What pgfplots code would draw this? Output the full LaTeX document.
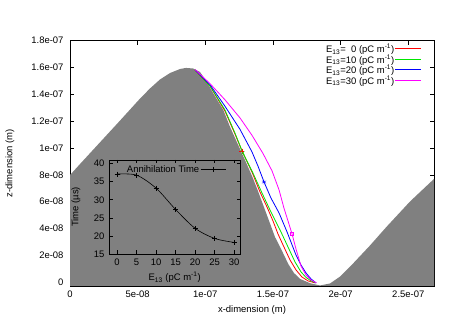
\documentclass[border=0pt]{standalone}
\usepackage{fontspec}
\setmainfont{Liberation Sans}
\usepackage{pgfplots}
\pgfplotsset{compat=1.18}
\definecolor{gpred}{RGB}{255,0,0}
\definecolor{gpgreen}{RGB}{0,230,0}
\definecolor{gpblue}{RGB}{0,0,255}
\definecolor{gpmag}{RGB}{255,0,255}
\definecolor{gpgray}{RGB}{128,128,128}
\begin{document}
\begin{tikzpicture}[font=\fontsize{9.5}{10.5}\selectfont]
\useasboundingbox (0,0) rectangle (450bp,315bp);
\begin{axis}[
  at={(70bp,29bp)}, anchor=south west,
  scale only axis, width=364bp, height=245.3bp,
  xmin=0, xmax=26.9, ymin=-0.28, ymax=18,
  xtick={0,5,10,15,20,25},
  xticklabels={0,5e-08,1e-07,1.5e-07,2e-07,2.5e-07},
  ytick={0,2,4,6,8,10,12,14,16,18},
  yticklabels={0,2e-08,4e-08,6e-08,8e-08,1e-07,1.2e-07,1.4e-07,1.6e-07,1.8e-07},
  tick align=inside, major tick length=4bp,
  tick style={black, line width=0.6pt},
  axis line style={line width=0.7pt},
  xticklabel style={yshift=-1.5bp},
  yticklabel style={xshift=-3bp},
  xlabel={x-dimension (m)}, ylabel={z-dimension (m)},
  xlabel style={at={(axis description cs:0.5,-0.1)}, anchor=center},
  ylabel style={at={(axis description cs:-0.165,0.5)}, anchor=center},
  legend style={at={(0.975,0.995)}, anchor=north east, draw=none, fill=none,
    row sep=0pt, nodes={inner sep=0.3bp}},
  legend plot pos=right, legend cell align=right,
  legend image code/.code={\draw[#1, line width=1.1pt] (0bp,0.4bp) -- (26bp,0.4bp);},
]
\addplot[fill=gpgray, draw=none, forget plot] coordinates {
(0,-0.28) (0,7.99) (0.74,8.81) (2.22,10.43) (3.70,12.05) (5.17,13.68) (5.91,14.44)
(6.65,15.11) (7.39,15.59) (8.13,15.89) (8.57,15.97) (9.09,15.93) (9.61,15.67)
(10.10,14.94) (10.59,14.08) (11.33,12.84) (11.82,11.59) (12.32,10.47) (12.93,9.11)
(13.45,7.92) (13.89,6.80) (14.41,5.39) (15.15,3.37) (15.67,2.33) (16.13,1.36)
(16.55,0.69) (17.00,0.25) (17.74,-0.07) (18.48,-0.24) (19.22,-0.09) (19.95,0.42)
(20.94,1.42) (22.17,2.74) (23.40,4.14) (25.13,6.02) (26.90,7.70) (26.90,-0.28)
} -- cycle;
\addplot[gpred, line width=0.8pt] coordinates {
(9.24,15.82) (10.35,14.62) (11.45,12.76) (12.19,11.05) (12.71,9.78) (13.45,8.21)
(14.04,6.73) (14.56,5.61) (15.00,4.57) (15.37,3.60) (15.81,2.63) (16.26,1.66)
(16.70,0.92) (17.14,0.39) (17.59,0.10) (18.11,-0.05)
};
\addlegendentry{E\textsubscript{13}=\hphantom{1}0 (pC m\textsuperscript{-1})}
\addplot[gpgreen, line width=0.8pt] coordinates {
(9.24,15.82) (10.35,14.62) (11.45,12.84) (12.19,11.12) (12.78,9.63) (13.52,8.14)
(14.19,6.65) (14.85,5.24) (15.52,3.90) (16.11,2.63) (16.63,1.51) (17.07,0.77)
(17.44,0.36) (17.81,0.10) (18.18,-0.05)
};
\addlegendentry{E\textsubscript{13}=10 (pC m\textsuperscript{-1})}
\addplot[gpblue, line width=0.8pt] coordinates {
(9.24,15.82) (10.35,14.72) (11.45,13.12) (12.56,11.40) (13.45,9.71) (13.89,8.66)
(14.34,7.47) (14.85,6.28) (15.45,5.16) (16.04,3.75) (16.70,2.03) (17.07,1.29)
(17.44,0.69) (17.81,0.25) (18.18,-0.05)
};
\addlegendentry{E\textsubscript{13}=20 (pC m\textsuperscript{-1})}
\addplot[gpmag, line width=0.8pt] coordinates {
(9.24,15.85) (10.35,14.80) (11.45,13.60) (12.56,12.25) (13.45,10.95) (14.26,9.60)
(14.93,8.30) (15.45,6.88) (15.81,5.53) (16.11,4.57) (16.41,3.60) (16.70,2.48)
(17.07,1.21) (17.44,0.54) (17.81,0.17) (18.22,-0.05)
};
\addlegendentry{E\textsubscript{13}=30 (pC m\textsuperscript{-1})}
\addplot[only marks, gpred, mark=+, mark size=2.5bp, forget plot] coordinates {(12.71,9.78)};
\addplot[only marks, gpgreen, mark=x, mark size=2.2bp, forget plot] coordinates {(12.78,9.63)};
\addplot[only marks, gpblue, mark=asterisk, mark size=2.5bp, forget plot] coordinates {(14.34,7.47)};
\addplot[only marks, gpmag, mark=square, mark size=1.5bp, forget plot] coordinates {(16.41,3.60)};
\end{axis}
\begin{axis}[
  at={(109.3bp,61bp)}, anchor=south west,
  scale only axis, width=130.7bp, height=94bp,
  xmin=-2, xmax=31.5, ymin=15, ymax=41,
  xtick={0,5,10,15,20,25,30}, ytick={15,20,25,30,35,40},
  tick align=inside, major tick length=3.5bp,
  tick style={black, line width=0.6pt},
  axis line style={line width=0.7pt},
  /pgf/number format/assume math mode=true,
  xticklabel style={yshift=-1.5bp},
  yticklabel style={xshift=-1.5bp},
  xlabel={E\textsubscript{13} (pC m\textsuperscript{-1})},
  ylabel={Time (µs)},
  xlabel style={at={(axis description cs:0.5,-0.25)}, anchor=center},
  ylabel style={at={(axis description cs:-0.255,0.5)}, anchor=center},
  legend style={at={(0.916,0.979)}, anchor=north east, draw=none, fill=none,
    nodes={inner sep=1bp}},
  legend plot pos=right,
  legend image code/.code={\draw[mark repeat=2, mark phase=2, #1] plot coordinates {(0bp,0bp) (12.5bp,0bp) (25bp,0bp)};},
]
\addplot[black, mark=+, mark size=2.5bp, line width=0.6pt, smooth] coordinates {
(0,37.1) (5,36.8) (10,33.2) (15,27.3) (20,22.1) (25,19.3) (30,18.2)
};
\addlegendentry{Annihilation Time}
\end{axis}
\end{tikzpicture}
\end{document}
